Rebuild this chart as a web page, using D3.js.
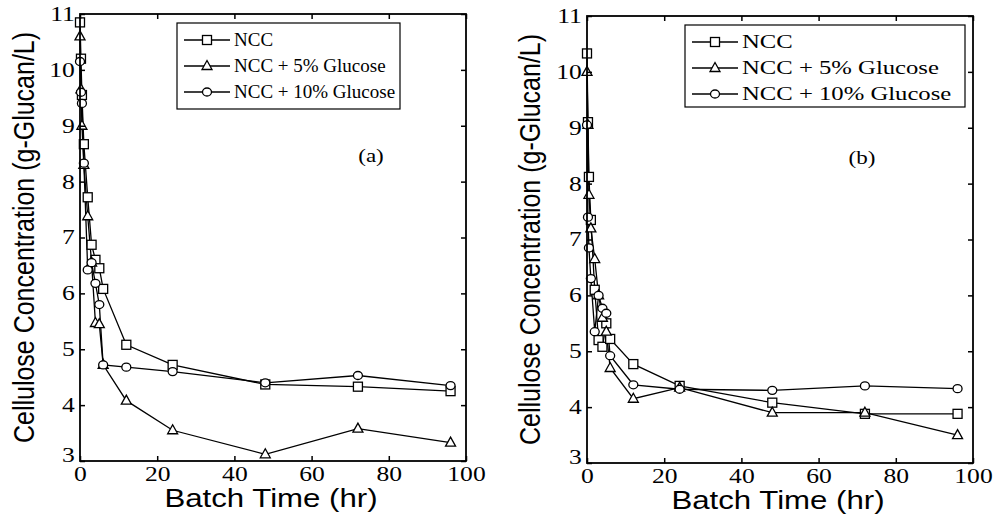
<!DOCTYPE html>
<html><head><meta charset="utf-8">
<script src="https://cdn.jsdelivr.net/npm/d3@7"></script>
<style>body{margin:0;background:#fff}svg{display:block}</style>
</head><body>
<svg id="c" width="996" height="517"></svg>
<script>
// ---- data ----
const times = [0, 0.25, 0.5, 1, 2, 3, 4, 5, 6, 12, 24, 48, 72, 96];
const seriesNames = ["NCC", "NCC + 5% Glucose", "NCC + 10% Glucose"];
const seriesMarkers = ["square", "triangle", "circle"];
// panel (a)
const aNCC   = [10.85, 10.2, 9.55, 8.67, 7.72, 6.87, 6.6, 6.45, 6.08, 5.08, 4.72, 4.37, 4.33, 4.25];
const aG5    = [10.6, 9.65, 9.0, 8.3, 7.38, 6.55, 5.47, 5.45, 4.72, 4.08, 3.55, 3.12, 3.58, 3.33];
const aG10   = [10.15, 9.6, 9.4, 8.33, 6.42, 6.55, 6.18, 5.8, 4.72, 4.68, 4.6, 4.4, 4.53, 4.35];
// panel (b)
const bNCC   = [10.33, 9.1, 8.12, 7.35, 6.1, 5.2, 5.08, 5.5, 5.22, 4.77, 4.38, 4.08, 3.88, 3.88];
const bG5    = [10.0, 9.05, 7.8, 7.2, 6.65, 6.0, 5.6, 5.35, 4.7, 4.15, 4.35, 3.9, 3.9, 3.5];
const bG10   = [9.05, 7.4, 6.85, 6.3, 5.35, 6.0, 5.77, 5.68, 4.92, 4.4, 4.32, 4.3, 4.38, 4.33];
const xTicks = [0, 20, 40, 60, 80, 100];
const yTicks = [3, 4, 5, 6, 7, 8, 9, 10, 11];
const xTitle = "Batch Time (hr)";
const yTitle = "Cellulose Concentration (g-Glucan/L)";

const panels = [
  {label: "(a)", data: [aNCC, aG5, aG10], box: {x0: 80, x1: 466, y0: 14, y1: 461},
   legend: {x: 177, y: 23, w: 223, h: 86, sx: 1.0}, lab: {x: 371, y: 162}, ytx: 34},
  {label: "(b)", data: [bNCC, bG5, bG10], box: {x0: 587, x1: 973, y0: 16, y1: 463},
   legend: {x: 685, y: 25, w: 280, h: 82, sx: 1.3}, lab: {x: 862, y: 164}, ytx: 540}
];

const svg = d3.select("#c");
const serif = "'Liberation Serif', 'Times New Roman', serif";
const sans = "'Liberation Sans', Arial, sans-serif";
const SX = 1.28; // horizontal stretch of the reference's text

function drawMarker(g, type, x, y) {
  if (type === "square") {
    g.append("rect").attr("x", x - 4.5).attr("y", y - 4.5).attr("width", 9).attr("height", 9)
      .attr("fill", "#fff").attr("stroke", "#000").attr("stroke-width", 1.3);
  } else if (type === "triangle") {
    g.append("path").attr("d", `M${x},${y - 5.5}L${x + 5},${y + 3.5}L${x - 5},${y + 3.5}Z`)
      .attr("fill", "#fff").attr("stroke", "#000").attr("stroke-width", 1.3);
  } else {
    g.append("ellipse").attr("cx", x).attr("cy", y).attr("rx", 4.5).attr("ry", 4)
      .attr("fill", "#fff").attr("stroke", "#000").attr("stroke-width", 1.3);
  }
}

panels.forEach(p => {
  const b = p.box;
  const x = d3.scaleLinear().domain([0, 100]).range([b.x0, b.x1]);
  const y = d3.scaleLinear().domain([3, 11]).range([b.y1, b.y0]);
  const g = svg.append("g");

  // lines
  const line = d3.line().x((d, i) => x(times[i])).y(d => y(d));
  p.data.forEach(vals => {
    g.append("path").attr("d", line(vals)).attr("fill", "none")
      .attr("stroke", "#000").attr("stroke-width", 1.3);
  });
  // markers
  p.data.forEach((vals, si) => {
    vals.forEach((v, i) => drawMarker(g, seriesMarkers[si], x(times[i]), y(v)));
  });

  // box
  g.append("rect").attr("x", b.x0).attr("y", b.y0).attr("width", b.x1 - b.x0).attr("height", b.y1 - b.y0)
    .attr("fill", "none").attr("stroke", "#000").attr("stroke-width", 1.8);

  // axes via d3 (inward ticks)
  const xa = d3.axisBottom(x).tickValues(xTicks).tickSizeInner(-5).tickSizeOuter(0).tickPadding(6);
  g.append("g").attr("transform", `translate(0,${b.y1})`).call(xa);
  const xt = d3.axisTop(x).tickValues(xTicks).tickSizeInner(-5).tickSizeOuter(0).tickFormat("");
  g.append("g").attr("transform", `translate(0,${b.y0})`).call(xt);
  const ya = d3.axisLeft(y).tickValues(yTicks).tickSizeInner(-5).tickSizeOuter(0).tickPadding(4);
  const gy = g.append("g").attr("transform", `translate(${b.x0},0)`).call(ya);
  const yr = d3.axisRight(y).tickValues(yTicks).tickSizeInner(-5).tickSizeOuter(0).tickFormat("");
  g.append("g").attr("transform", `translate(${b.x1},0)`).call(yr);
  g.selectAll(".domain").remove();
  g.selectAll(".tick line").attr("stroke", "#000").attr("stroke-width", 1.5);
  g.selectAll(".tick text").attr("fill", "#000").style("font-family", serif).style("font-size", "20px")
    .attr("transform", `scale(${SX},1)`);
  gy.selectAll(".tick").filter(d => d === 3).select("text").attr("dy", "0.02em");

  // titles
  g.append("text").attr("transform", `translate(${(b.x0 + b.x1) / 2 - 2},${b.y1 + 46}) scale(1.2,1)`)
    .attr("text-anchor", "middle").style("font-family", sans).style("font-size", "26px").text(xTitle);
  g.append("text").attr("transform", `translate(${p.ytx},${(b.y0 + b.y1) / 2}) rotate(-90) scale(1,1.18)`)
    .attr("text-anchor", "middle").style("font-family", sans).style("font-size", "25px").text(yTitle);

  // panel label
  g.append("text").attr("transform", `translate(${p.lab.x},${p.lab.y}) scale(${SX},1)`)
    .attr("text-anchor", "middle").style("font-family", serif).style("font-size", "18px").text(p.label);

  // legend
  const L = p.legend;
  const lg = g.append("g");
  lg.append("rect").attr("x", L.x).attr("y", L.y).attr("width", L.w).attr("height", L.h)
    .attr("fill", "#fff").attr("stroke", "#000").attr("stroke-width", 1.2);
  seriesNames.forEach((name, i) => {
    const cy = L.y + 17 + i * 26;
    lg.append("line").attr("x1", L.x + 7).attr("x2", L.x + 53).attr("y1", cy).attr("y2", cy)
      .attr("stroke", "#000").attr("stroke-width", 1.3);
    drawMarker(lg, seriesMarkers[i], L.x + 30, cy);
    lg.append("text").attr("transform", `translate(${L.x + 57},${cy + 6}) scale(${L.sx},1)`)
      .style("font-family", serif).style("font-size", "19px").text(name);
  });
});
</script>
</body></html>
